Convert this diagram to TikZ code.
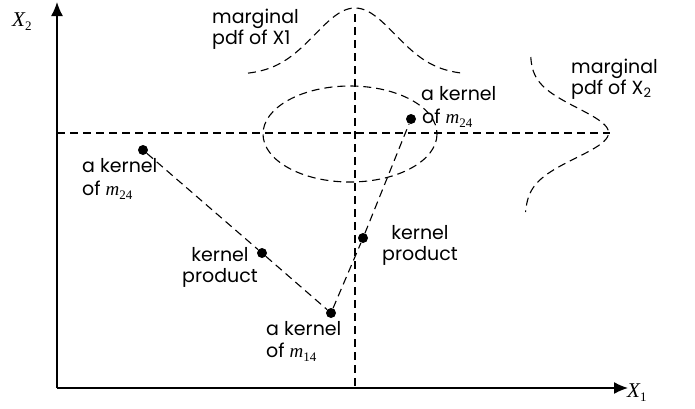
\documentclass[tikz,border=0pt]{standalone}
\usepackage{fontspec}
\setmainfont{Poppins}
\newfontfamily\serif{Liberation Serif}
\usetikzlibrary{arrows.meta}
\newcommand{\msub}[2]{{\serif\itshape #1}\raisebox{-4pt}{\serif\fontsize{13}{13}\selectfont #2}}
\tikzset{
  lab/.style={font=\fontsize{19}{22}\selectfont, inner sep=0pt, anchor=base west},
  labc/.style={font=\fontsize{19}{22}\selectfont, inner sep=0pt, anchor=base},
  dashline/.style={line width=1.1pt, dash pattern=on 8pt off 5pt},
  dot/.style={circle, fill=black, inner sep=0pt, minimum size=10pt},
  axis/.style={line width=1.4pt, -{Latex[length=14pt,width=12pt]}},
}
\begin{document}
\begin{tikzpicture}[x=1pt,y=-1pt]
\useasboundingbox (0,0) rectangle (695,408);
% axes
\coordinate (o) at (57,388);
\coordinate (ytip) at (57,2);
\coordinate (xtip) at (628,388);
\draw[axis] (o) -- (ytip);
\draw[axis] (o) -- (xtip);
\node[inner sep=0pt, anchor=base west, font=\fontsize{21}{21}\selectfont] (xl2) at (12,26) {\msub{X}{2}};
\node[inner sep=0pt, anchor=base west, font=\fontsize{21}{21}\selectfont] (xl1) at (627,397) {\msub{X}{1}};
% dashed reference lines
\coordinate (hl) at (57,133);
\coordinate (hr) at (610,133);
\coordinate (vt) at (355,14);
\coordinate (vb) at (355,388);
\draw[dashline] (hl) -- (hr);
\draw[dashline] (vt) -- (vb);
% ellipse
\draw[dashline] (350,134) ellipse [x radius=87, y radius=48];
% marginal curves
\draw[dashline] plot[domain=248:462, samples=90, smooth] (\x, {75-67*exp(-((\x-355)/40)^2/2)});
\draw[dashline] plot[domain=57:212, samples=90, smooth] ({530-5*(\x-57)/155+81*exp(-((\x-133)/25)^2/2)}, \x);
% kernel points
\node[dot] (p1) at (411,119) {};
\node[dot] (p2) at (143,150) {};
\node[dot] (p3) at (262,253) {};
\node[dot] (p4) at (331,313) {};
\node[dot] (p5) at (363,238) {};
\draw[dashline] (p2) -- (p3) -- (p4) -- (p5) -- (p1);
% labels
\node[lab] (t1a) at (212,23) {marginal};
\node[lab] (t1b) at (212,44) {pdf of X1};
\node[lab] (t2a) at (571,73) {marginal};
\node[lab] (t2b) at (571,94) {pdf of X\raisebox{-3pt}{\fontsize{13}{13}\selectfont 2}};
\node[lab] (t3a) at (421,100) {a kernel};
\node[lab] (t3b) at (422,123) {of \msub{m}{24}};
\node[lab] (t4a) at (82,172) {a kernel};
\node[lab] (t4b) at (82,195) {of \msub{m}{24}};
\node[labc] (t5a) at (220,261) {kernel};
\node[labc] (t5b) at (220,282) {product};
\node[labc] (t6a) at (420,239) {kernel};
\node[labc] (t6b) at (420,260) {product};
\node[lab] (t7a) at (266,335) {a kernel};
\node[lab] (t7b) at (266,357) {of \msub{m}{14}};
\end{tikzpicture}
\end{document}
